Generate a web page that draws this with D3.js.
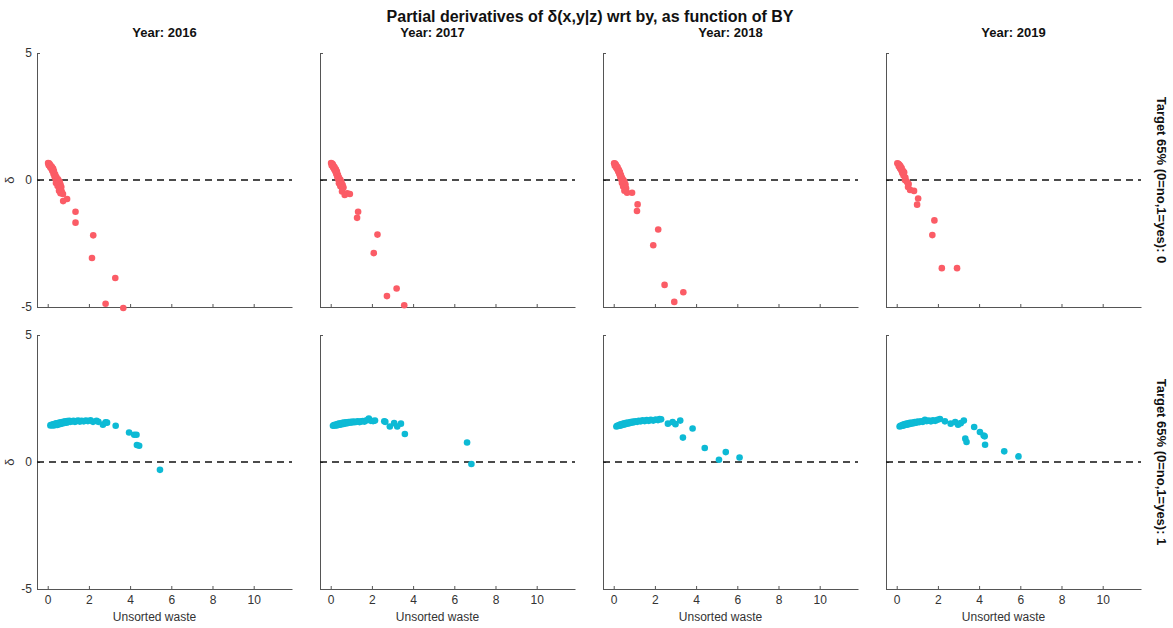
<!DOCTYPE html>
<html>
<head>
<meta charset="utf-8">
<script src="https://cdn.jsdelivr.net/npm/d3@7"></script>
<style>
  html, body { margin: 0; padding: 0; background: #fff; }
  svg { display: block; font-family: "Liberation Sans", Arial, Helvetica, sans-serif; }
</style>
</head>
<body>
<svg id="chart" width="1173" height="628"></svg>
<script>
// ---------------- DATA ----------------
const chartTitle = "Partial derivatives of δ(x,y|z) wrt by, as function of BY";
const years = [2016, 2017, 2018, 2019];
const rowLabels = ["Target 65% (0=no,1=yes): 0", "Target 65% (0=no,1=yes): 1"];
const xLabel = "Unsorted waste";
const yLabel = "δ";
const xTicks = [0, 2, 4, 6, 8, 10];
const yTicks = [-5, 0, 5];
const xDomain = [-0.52, 11.86];
const yDomain = [-5, 5];

// Target = 0 (red)
const x2016t0 = [0.02,0.06,0.10,0.05,0.14,0.12,0.20,0.18,0.26,0.22,0.30,0.28,0.36,0.33,0.42,0.38,0.50,0.45,0.58,0.40,0.52,0.62,0.48,0.58,0.66,0.55,0.68,0.62,0.74,0.75,0.94,1.35,1.35,2.21,2.15,3.28,2.81,3.67];
const y2016t0 = [0.67,0.66,0.62,0.58,0.57,0.50,0.52,0.44,0.45,0.36,0.35,0.25,0.22,0.14,0.12,0.04,0.03,-0.04,-0.06,-0.12,-0.14,-0.18,-0.24,-0.30,-0.28,-0.42,-0.45,-0.52,-0.55,-0.83,-0.75,-1.25,-1.68,-2.18,-3.07,-3.86,-4.87,-5.04];

const x2017t0 = [0.02,0.06,0.10,0.05,0.14,0.12,0.19,0.17,0.25,0.22,0.30,0.27,0.35,0.32,0.40,0.37,0.47,0.43,0.52,0.40,0.50,0.58,0.47,0.56,0.62,0.55,0.68,0.80,0.93,1.33,1.28,2.27,2.09,3.20,2.73,3.57];
const y2017t0 = [0.67,0.65,0.62,0.57,0.55,0.49,0.50,0.42,0.42,0.34,0.33,0.24,0.20,0.12,0.10,0.02,0.01,-0.05,-0.08,-0.13,-0.16,-0.20,-0.25,-0.32,-0.30,-0.45,-0.59,-0.52,-0.55,-1.25,-1.49,-2.15,-2.88,-4.27,-4.57,-4.93];

const x2018t0 = [0.02,0.06,0.10,0.05,0.14,0.12,0.19,0.17,0.25,0.22,0.30,0.27,0.35,0.32,0.40,0.37,0.47,0.43,0.52,0.40,0.50,0.57,0.46,0.55,0.60,0.52,0.65,0.89,1.16,1.13,2.16,1.92,2.47,3.38,2.94];
const y2018t0 = [0.66,0.65,0.61,0.56,0.55,0.48,0.50,0.42,0.40,0.33,0.31,0.24,0.19,0.12,0.09,0.02,0.00,-0.05,-0.07,-0.12,-0.15,-0.18,-0.26,-0.30,-0.33,-0.42,-0.50,-0.50,-0.96,-1.22,-1.95,-2.57,-4.13,-4.42,-4.80];

const x2019t0 = [0.03,0.08,0.13,0.10,0.18,0.16,0.24,0.22,0.30,0.27,0.36,0.33,0.42,0.40,0.48,0.52,0.58,0.55,0.65,0.84,1.04,0.99,1.83,1.73,2.19,2.93];
const y2019t0 = [0.66,0.64,0.60,0.54,0.55,0.46,0.47,0.38,0.36,0.28,0.30,0.18,0.10,0.00,-0.05,-0.10,-0.16,-0.28,-0.39,-0.43,-0.73,-0.97,-1.59,-2.17,-3.47,-3.47];

// Target = 1 (cyan)
const x2016t1 = [0.13,0.18,0.22,0.27,0.30,0.35,0.38,0.42,0.46,0.50,0.54,0.58,0.62,0.66,0.70,0.75,0.80,0.85,0.90,0.95,1.00,1.05,1.10,1.18,1.25,1.32,1.40,1.48,1.56,1.65,1.75,1.85,1.95,2.08,2.20,2.37,2.46,2.68,2.81,2.88,3.30,3.95,4.20,4.31,4.33,4.44,5.45];
const y2016t1 = [1.44,1.46,1.45,1.48,1.44,1.50,1.47,1.52,1.46,1.53,1.49,1.55,1.50,1.56,1.52,1.58,1.54,1.60,1.55,1.61,1.57,1.62,1.58,1.60,1.62,1.58,1.61,1.63,1.59,1.62,1.60,1.63,1.61,1.64,1.58,1.62,1.58,1.47,1.56,1.55,1.43,1.16,1.07,1.07,0.67,0.64,-0.31];

const x2017t1 = [0.11,0.16,0.20,0.25,0.28,0.33,0.36,0.40,0.45,0.49,0.53,0.57,0.62,0.66,0.70,0.75,0.80,0.86,0.92,0.98,1.04,1.10,1.17,1.24,1.32,1.40,1.48,1.56,1.64,1.74,1.85,1.95,2.06,2.15,2.60,2.65,2.87,3.08,3.23,3.41,3.60,6.62,6.83];
const y2017t1 = [1.43,1.45,1.44,1.47,1.44,1.49,1.46,1.51,1.47,1.52,1.49,1.54,1.50,1.55,1.52,1.56,1.53,1.57,1.55,1.58,1.56,1.59,1.57,1.58,1.60,1.57,1.60,1.61,1.59,1.64,1.71,1.62,1.61,1.63,1.60,1.58,1.40,1.53,1.40,1.51,1.10,0.77,-0.08];

const x2018t1 = [0.13,0.17,0.21,0.26,0.30,0.34,0.38,0.43,0.47,0.52,0.56,0.61,0.66,0.71,0.76,0.82,0.88,0.94,1.00,1.07,1.14,1.22,1.31,1.40,1.50,1.60,1.70,1.80,1.92,2.04,2.15,2.23,2.30,2.63,2.86,3.00,3.23,3.83,3.36,4.42,5.44,5.11,6.11];
const y2018t1 = [1.40,1.43,1.42,1.45,1.43,1.48,1.45,1.50,1.47,1.52,1.49,1.54,1.51,1.55,1.53,1.57,1.55,1.59,1.57,1.60,1.58,1.62,1.60,1.64,1.61,1.65,1.62,1.66,1.63,1.67,1.65,1.69,1.68,1.51,1.57,1.49,1.63,1.32,0.96,0.55,0.39,0.09,0.18];

const x2019t1 = [0.14,0.18,0.22,0.27,0.31,0.35,0.40,0.44,0.49,0.54,0.59,0.64,0.70,0.76,0.82,0.88,0.95,1.02,1.10,1.18,1.27,1.37,1.46,1.56,1.66,1.76,1.87,1.98,2.10,2.34,2.62,2.84,2.98,3.11,3.26,3.33,3.39,3.76,4.04,4.22,4.27,4.29,5.22,5.91];
const y2019t1 = [1.40,1.43,1.42,1.45,1.43,1.48,1.46,1.50,1.47,1.52,1.49,1.54,1.51,1.55,1.53,1.57,1.55,1.59,1.57,1.60,1.58,1.66,1.61,1.63,1.60,1.64,1.62,1.66,1.69,1.60,1.51,1.57,1.47,1.53,1.63,0.92,0.79,1.38,1.18,1.04,1.01,0.68,0.42,0.22];

const seriesX = [[x2016t0, x2017t0, x2018t0, x2019t0], [x2016t1, x2017t1, x2018t1, x2019t1]];
const seriesY = [[y2016t0, y2017t0, y2018t0, y2019t0], [y2016t1, y2017t1, y2018t1, y2019t1]];
const rowColors = ["#FB5C66", "#0DBAD5"];

// ---------------- LAYOUT ----------------
const svg = d3.select("#chart");
const panelLefts = [37, 320, 603, 886];
const panelWidth = 255;
const rowTops = [53, 335];
const panelHeight = 254;
const yearLabelShift = [0, -15, 0, 0];

svg.append("text")
  .attr("x", 590).attr("y", 22)
  .attr("text-anchor", "middle")
  .style("font-size", "16px").style("font-weight", "bold").attr("fill", "#111")
  .text(chartTitle);

years.forEach((yr, c) => {
  svg.append("text")
    .attr("x", panelLefts[c] + panelWidth / 2 + yearLabelShift[c]).attr("y", 37)
    .attr("text-anchor", "middle")
    .style("font-size", "13px").style("font-weight", "bold").attr("fill", "#111")
    .text("Year: " + yr);
});

rowTops.forEach((top, r) => {
  const cy = top + panelHeight / 2;
  svg.append("text")
    .attr("transform", `translate(1157,${cy}) rotate(90)`)
    .attr("text-anchor", "middle")
    .style("font-size", "13px").style("font-weight", "bold").attr("fill", "#111")
    .text(rowLabels[r]);

  svg.append("text")
    .attr("transform", `translate(14,${cy}) rotate(-90)`)
    .attr("text-anchor", "middle")
    .style("font-size", "13px").attr("fill", "#333")
    .text(yLabel);

  years.forEach((yr, c) => {
    const left = panelLefts[c];
    const x = d3.scaleLinear().domain(xDomain).range([left, left + panelWidth]);
    const y = d3.scaleLinear().domain(yDomain).range([top + panelHeight, top]);
    const g = svg.append("g");

    const xa = g.append("g")
      .attr("transform", `translate(0,${top + panelHeight})`)
      .call(d3.axisBottom(x).tickValues(xTicks).tickSizeInner(-3).tickSizeOuter(0).tickPadding(6)
        .tickFormat(r === 1 ? (d => String(d)) : () => ""));
    const ya = g.append("g")
      .attr("transform", `translate(${left},0)`)
      .call(d3.axisLeft(y).tickValues(yTicks).tickSizeInner(-3).tickSizeOuter(0).tickPadding(5)
        .tickFormat(c === 0 ? (d => String(d)) : () => ""));
    [xa, ya].forEach(a => {
      a.select(".domain").attr("stroke", "#555");
      a.selectAll(".tick line").attr("stroke", "#555");
      a.selectAll(".tick text").attr("fill", "#333")
        .style("font-size", "12px")
        .style("font-family", "\"Liberation Sans\", Arial, sans-serif");
    });

    g.append("line")
      .attr("x1", x(xDomain[0])).attr("x2", x(xDomain[1]))
      .attr("y1", y(0)).attr("y2", y(0))
      .attr("stroke", "#111").attr("stroke-width", 1.4)
      .attr("stroke-dasharray", "7,5");

    const xs = seriesX[r][c], ys = seriesY[r][c];
    g.append("g").selectAll("circle")
      .data(xs.map((v, i) => [v, ys[i]]))
      .join("circle")
      .attr("cx", d => x(d[0]))
      .attr("cy", d => y(d[1]))
      .attr("r", 3.3)
      .attr("fill", rowColors[r]);

    if (r === 1) {
      g.append("text")
        .attr("x", left + panelWidth / 2 - 10).attr("y", 621)
        .attr("text-anchor", "middle")
        .style("font-size", "12px").attr("fill", "#333")
        .text(xLabel);
    }
  });
});
</script>
</body>
</html>
